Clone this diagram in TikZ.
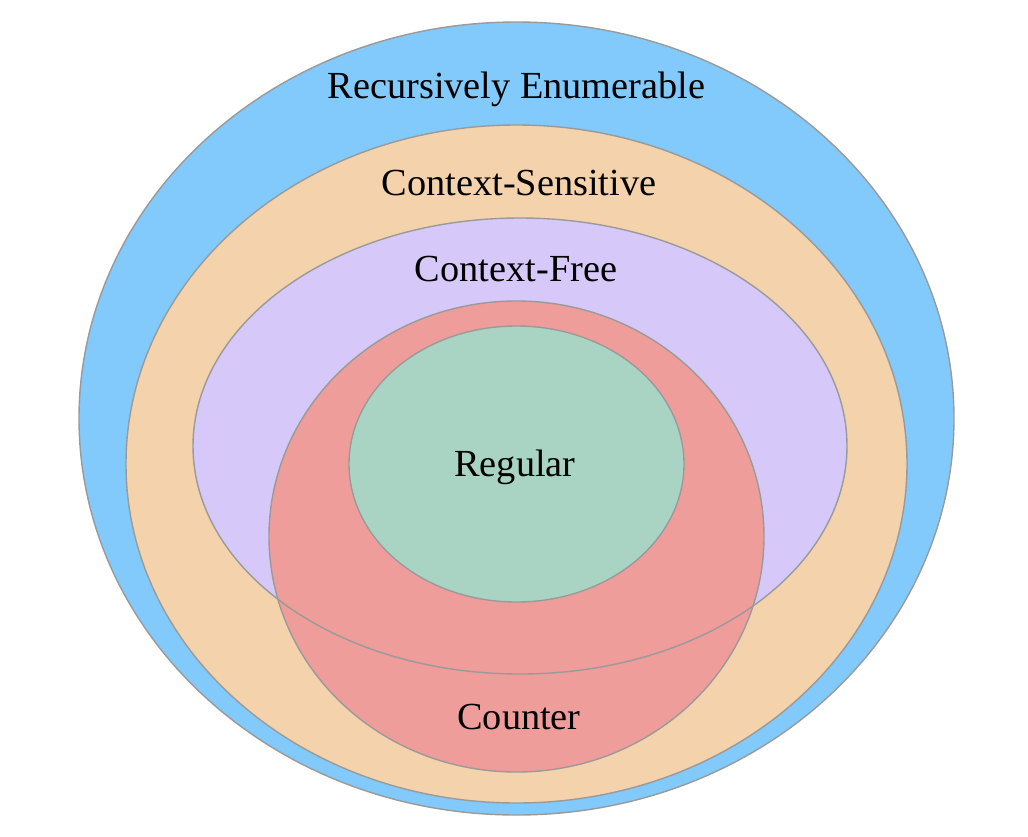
\documentclass[tikz,border=0pt]{standalone}
\usepackage{fontspec}
\setmainfont{Liberation Serif}
\definecolor{reblue}{HTML}{82CAFB}
\definecolor{csorange}{HTML}{F3D2AC}
\definecolor{cfpurple}{HTML}{D6C8F8}
\definecolor{ctred}{HTML}{EF9D9A}
\definecolor{rggreen}{HTML}{A9D4C3}
\definecolor{outline}{HTML}{9A9A9A}
\begin{document}
\begin{tikzpicture}[x=1pt,y=-1pt,
  ring/.style={draw=outline,line width=1.4pt},
  lbl/.style={anchor=base,font=\fontsize{38.3}{41}\selectfont,text=black,inner sep=0pt}]
\useasboundingbox (0,0) rectangle (1028,836);
% fills
\fill[reblue] (516.5,418.5) ellipse [x radius=437.5, y radius=396.5];
\fill[csorange] (516.5,464) ellipse [x radius=390.5, y radius=339];
\fill[cfpurple] (520,446) ellipse [x radius=327, y radius=228];
\fill[ctred] (516.5,536.5) ellipse [x radius=247.5, y radius=235.5];
\fill[rggreen] (516.5,464) ellipse [x radius=167.5, y radius=138];
% outlines
\draw[ring] (516.5,418.5) ellipse [x radius=437.5, y radius=396.5];
\draw[ring] (516.5,464) ellipse [x radius=390.5, y radius=339];
\draw[ring] (520,446) ellipse [x radius=327, y radius=228];
\draw[ring] (516.5,536.5) ellipse [x radius=247.5, y radius=235.5];
\draw[ring] (516.5,464) ellipse [x radius=167.5, y radius=138];
% labels
\node[lbl] (re) at (516.5,98) {Recursively Enumerable};
\node[lbl] (cs) at (519,195) {Context-Sensitive};
\node[lbl] (cf) at (516,281) {Context-Free};
\node[lbl] (rg) at (515,476) {Regular};
\node[lbl] (ct) at (519,729) {Counter};
\end{tikzpicture}
\end{document}
